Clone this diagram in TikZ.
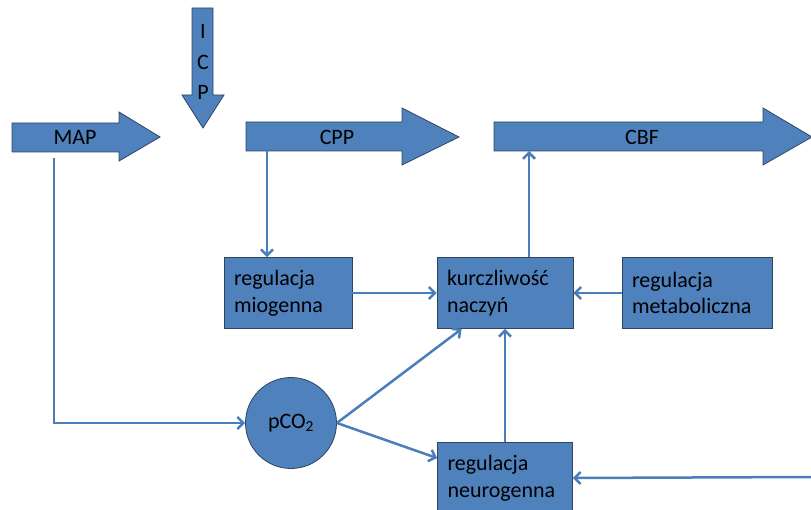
\documentclass[tikz,border=0pt]{standalone}
\usepackage{fontspec}
\setmainfont{Carlito}
\usetikzlibrary{arrows.meta,calc}
\definecolor{boxfill}{HTML}{4F81BD}
\definecolor{boxline}{HTML}{2E4560}
\definecolor{connline}{HTML}{4A7EBB}
\tikzset{
  bigarrow/.style={fill=boxfill,draw=boxline,line width=0.8pt,line join=miter},
  lbl/.style={font=\fontsize{22}{26.7}\selectfont,text=black,inner sep=0pt},
  regbox/.style={rectangle,fill=boxfill,draw=boxline,line width=0.8pt,minimum height=71pt,
     inner xsep=10pt,inner ysep=0pt,align=left,font=\fontsize{22}{26.7}\selectfont,text=black},
  conn/.style={draw=connline,line width=2.5pt,-{Straight Barb[length=6pt,width=12pt,line width=2.5pt]}},
}
\begin{document}
\begin{tikzpicture}[x=1pt,y=-1pt]
\useasboundingbox (0,0) rectangle (811,510);
\clip (0,0) rectangle (811,510);
\fill[white] (0,0) rectangle (811,510);
% big arrows
\draw[bigarrow] (12,123) -- (119,123) -- (119,112) -- (160,137) -- (119,161) -- (119,152) -- (12,152) -- cycle;
\node[lbl] (map) at (75,137) {MAP};
\draw[bigarrow] (192,8) -- (213,8) -- (213,95) -- (224,95) -- (203,128) -- (182,95) -- (192,95) -- cycle;
\node[lbl] (icpi) at (203,31) {I};
\node[lbl] (icpc) at (203,62) {C};
\node[lbl] (icpp) at (203,92) {P};
\draw[bigarrow] (246,122) -- (402,122) -- (402,108) -- (459,137) -- (402,165) -- (402,151) -- (246,151) -- cycle;
\node[lbl] (cpp) at (337,137) {CPP};
\draw[bigarrow] (494,122) -- (763,122) -- (763,108) -- (812,137) -- (763,165) -- (763,151) -- (494,151) -- cycle;
\node[lbl] (cbf) at (642,137) {CBF};
% boxes
\node[regbox,text width=108pt] (miog) at (288,293) {regulacja\\miogenna};
\node[regbox,text width=116pt] (kurcz) at (505,293) {kurczliwość\\naczyń};
\node[regbox,text width=130pt] (metab) at (697,293) {regulacja\\metaboliczna};
\node[regbox,text width=115pt] (neuro) at (505,478) {regulacja\\neurogenna};
\node[circle,fill=boxfill,draw=boxline,line width=0.8pt,minimum size=91pt,inner sep=0pt,
      font=\fontsize{22}{26.7}\selectfont,text=black] (pco) at (291,423) {pCO\textsubscript{2}};
% coordinates
\coordinate (cppdown) at (267,151);
\coordinate (cbfin) at (529,151);
\coordinate (mapout) at (54,158);
\coordinate (rightin) at (811,477);
% connectors
\draw[conn] (cppdown) -- (cppdown |- miog.north);
\draw[conn] (cbfin |- kurcz.north) -- (cbfin);
\draw[conn] (miog.east) -- (kurcz.west);
\draw[conn] (metab.west) -- (kurcz.east);
\draw[conn] (mapout) |- (pco.west);
\draw[conn] (pco.east) -- ($(kurcz.south west)+(25,0)$);
\draw[conn] (pco.east) -- ($(neuro.north west)+(0,16)$);
\draw[conn] (neuro.north) -- (kurcz.south);
\draw[conn] (rightin) -- (neuro.east);
\end{tikzpicture}
\end{document}
